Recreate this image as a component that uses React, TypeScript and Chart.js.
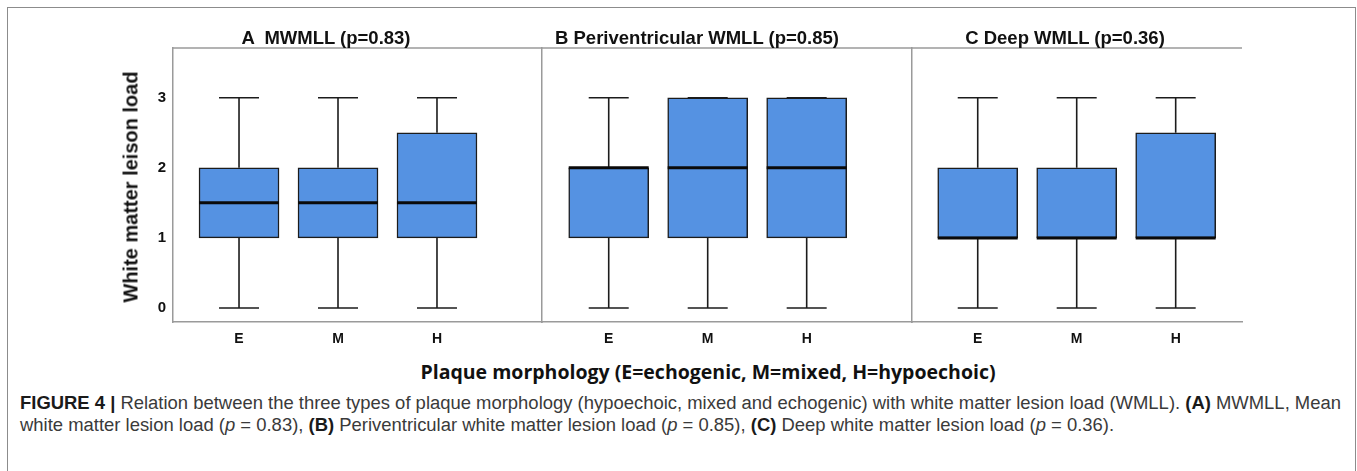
import React, { useEffect, useRef } from 'react';
import { Chart, registerables } from 'chart.js';

Chart.register(...registerables);

// ---------- data ----------
const categories = ['E', 'M', 'H'];
const categoryPositions = [1, 2, 3];
const yTickValues = [0, 1, 2, 3];

const panelTitles = ['A  MWMLL (p=0.83)', 'B Periventricular WMLL (p=0.85)', 'C Deep WMLL (p=0.36)'];

// A: mean white matter lesion load
const mwmllMin = [0, 0, 0];
const mwmllQ1 = [1, 1, 1];
const mwmllMedian = [1.5, 1.5, 1.5];
const mwmllQ3 = [2, 2, 2.5];
const mwmllMax = [3, 3, 3];

// B: periventricular white matter lesion load
const periMin = [0, 0, 0];
const periQ1 = [1, 1, 1];
const periMedian = [2, 2, 2];
const periQ3 = [2, 3, 3];
const periMax = [3, 3, 3];

// C: deep white matter lesion load
const deepMin = [0, 0, 0];
const deepQ1 = [1, 1, 1];
const deepMedian = [1, 1, 1];
const deepQ3 = [2, 2, 2.5];
const deepMax = [3, 3, 3];

const yAxisTitle = 'White matter leison load';
const xAxisTitle = 'Plaque morphology (E=echogenic, M=mixed, H=hypoechoic)';

// ---------- styles ----------
const BOX_FILL = '#5592E2';
const INK = '#1c1c1c';
const FRAME = '#9a9a9a';
const ARIAL = '"Liberation Sans", Arial, sans-serif';

type Stats = { min: number[]; q1: number[]; median: number[]; q3: number[]; max: number[] };

const boxPlugin = {
  id: 'boxWhiskers',
  afterDatasetsDraw(chart: any) {
    const stats: Stats = chart.options.plugins.boxWhiskers.stats;
    const { ctx, chartArea } = chart;
    const xs = chart.scales.x;
    const ys = chart.scales.y;
    ctx.save();
    // top frame line
    ctx.strokeStyle = FRAME;
    ctx.lineWidth = 1.5;
    ctx.beginPath();
    ctx.moveTo(chartArea.left, chartArea.top);
    ctx.lineTo(chartArea.right, chartArea.top);
    ctx.stroke();

    categoryPositions.forEach((pos, i) => {
      const cx = xs.getPixelForValue(pos);
      const capHalf = 20;
      const boxHalf = 40;
      const yMin = ys.getPixelForValue(stats.min[i]);
      const yQ1 = ys.getPixelForValue(stats.q1[i]);
      const yMed = ys.getPixelForValue(stats.median[i]);
      const yQ3 = ys.getPixelForValue(stats.q3[i]);
      const yMax = ys.getPixelForValue(stats.max[i]);
      ctx.strokeStyle = INK;
      ctx.lineWidth = 1.6;
      ctx.beginPath();
      ctx.moveTo(cx, yMax);
      ctx.lineTo(cx, yQ3);
      ctx.moveTo(cx, yQ1);
      ctx.lineTo(cx, yMin);
      ctx.moveTo(cx - capHalf, yMax);
      ctx.lineTo(cx + capHalf, yMax);
      ctx.moveTo(cx - capHalf, yMin);
      ctx.lineTo(cx + capHalf, yMin);
      ctx.stroke();
      ctx.strokeStyle = '#0a0a0a';
      ctx.lineWidth = 3;
      ctx.beginPath();
      ctx.moveTo(cx - boxHalf, yMed);
      ctx.lineTo(cx + boxHalf, yMed);
      ctx.stroke();
    });
    ctx.restore();
  },
};

type PanelProps = {
  stats: Stats;
  left: number;
  width: number;
  yAxisWidth: number;
  showYTicks: boolean;
  xMin: number;
  xMax: number;
};

function Panel({ stats, left, width, yAxisWidth, showYTicks, xMin, xMax }: PanelProps) {
  const ref = useRef<HTMLCanvasElement>(null);
  const top = 40;
  const height = 315;
  useEffect(() => {
    if (!ref.current) return;
    const chart = new Chart(ref.current, {
      type: 'bar',
      data: {
        datasets: [
          {
            data: categoryPositions.map((x, i) => ({ x, y: [stats.q1[i], stats.q3[i]] })) as any,
            backgroundColor: BOX_FILL,
            borderColor: INK,
            borderWidth: 1.5,
            borderSkipped: false,
            barThickness: 80,
          },
        ],
      },
      options: {
        animation: false,
        responsive: false,
        devicePixelRatio: 1,
        layout: { padding: { top: 8, right: 2, left: 0, bottom: 0 } },
        plugins: {
          legend: { display: false },
          tooltip: { enabled: false },
          boxWhiskers: { stats },
        } as any,
        scales: {
          x: {
            type: 'linear',
            offset: false,
            min: xMin,
            max: xMax,
            grid: { display: false, drawTicks: false, offset: false },
            border: { display: true, color: FRAME, width: 1.5 },
            afterBuildTicks: (s: any) => {
              s.ticks = categoryPositions.map((v) => ({ value: v }));
            },
            afterFit: (s: any) => {
              s.height = 33;
              s.paddingLeft = 0;
              s.paddingRight = 0;
            },
            ticks: {
              autoSkip: false,
              maxRotation: 0,
              padding: 9,
              color: '#111',
              font: { family: ARIAL, weight: 'bold', size: 14 },
              callback: (v: any) => {
                const idx = categoryPositions.indexOf(Number(v));
                return idx >= 0 ? categories[idx] : '';
              },
            },
          },
          y: {
            type: 'linear',
            min: -0.2,
            max: 3.71,
            grid: { display: false, drawTicks: false },
            border: { display: true, color: FRAME, width: 1.5 },
            afterBuildTicks: (s: any) => {
              s.ticks = yTickValues.map((v) => ({ value: v }));
            },
            afterFit: (s: any) => {
              s.width = yAxisWidth;
              s.paddingTop = 0;
              s.paddingBottom = 0;
            },
            ticks: {
              display: showYTicks,
              padding: 7,
              color: '#111',
              font: { family: ARIAL, weight: 'bold', size: 15 },
            },
          },
        },
      } as any,
      plugins: [boxPlugin],
    });
    return () => chart.destroy();
  }, []);
  return (
    <canvas
      ref={ref}
      width={width}
      height={height}
      style={{ position: 'absolute', left, top, width, height }}
    />
  );
}

const titleStyle: React.CSSProperties = {
  position: 'absolute',
  top: 27,
  width: 400,
  textAlign: 'center',
  font: `bold 18.5px ${ARIAL}`,
  lineHeight: '22px',
  color: '#111',
  whiteSpace: 'pre',
};

export default function App() {
  const captionStyle: React.CSSProperties = {
    position: 'absolute',
    left: 20,
    font: `18.45px ${ARIAL}`,
    lineHeight: '22px',
    color: '#3a3a3a',
    whiteSpace: 'nowrap',
  };
  return (
    <div style={{ position: 'absolute', left: 0, top: 0, width: 1357, height: 471, overflow: 'hidden', background: '#fff' }}>
      <div
        style={{
          position: 'absolute',
          left: 7,
          top: 7,
          width: 1349,
          height: 500,
          border: '1.5px solid #8c8c8c',
          boxSizing: 'border-box',
        }}
      />
      <Panel
        stats={{ min: mwmllMin, q1: mwmllQ1, median: mwmllMedian, q3: mwmllQ3, max: mwmllMax }}
        left={135}
        width={409}
        yAxisWidth={38}
        showYTicks={true}
        xMin={0.333}
        xMax={4.061}
      />
      <Panel
        stats={{ min: periMin, q1: periQ1, median: periMedian, q3: periQ3, max: periMax }}
        left={538}
        width={376}
        yAxisWidth={4}
        showYTicks={false}
        xMin={0.326}
        xMax={4.064}
      />
      <Panel
        stats={{ min: deepMin, q1: deepQ1, median: deepMedian, q3: deepQ3, max: deepMax }}
        left={908}
        width={336}
        yAxisWidth={4}
        showYTicks={false}
        xMin={0.336}
        xMax={3.67}
      />
      <div style={{ ...titleStyle, left: 326 - 200 }}>{panelTitles[0]}</div>
      <div style={{ ...titleStyle, left: 697 - 200 }}>{panelTitles[1]}</div>
      <div style={{ ...titleStyle, left: 1065 - 200 }}>{panelTitles[2]}</div>
      <div
        style={{
          position: 'absolute',
          left: 131,
          top: 187,
          transform: 'translate(-50%, -50%) rotate(-90deg)',
          font: `bold 20px ${ARIAL}`,
          color: '#111',
          whiteSpace: 'nowrap',
        }}
      >
        {yAxisTitle}
      </div>
      <div
        style={{
          position: 'absolute',
          left: 708,
          top: 371,
          transform: 'translate(-50%, -50%)',
          font: `bold 19.5px "Open Sans", sans-serif`,
          color: '#111',
          whiteSpace: 'nowrap',
        }}
      >
        {xAxisTitle}
      </div>
      <div style={{ ...captionStyle, top: 392 }}>
        <b style={{ color: '#1a1a1a' }}>FIGURE 4 |</b> Relation between the three types of plaque morphology (hypoechoic,
        mixed and echogenic) with white matter lesion load (WMLL). <b style={{ color: '#1a1a1a' }}>(A)</b> MWMLL, Mean
      </div>
      <div style={{ ...captionStyle, top: 414 }}>
        white matter lesion load (<i>p</i> = 0.83), <b style={{ color: '#1a1a1a' }}>(B)</b> Periventricular white matter
        lesion load (<i>p</i> = 0.85), <b style={{ color: '#1a1a1a' }}>(C)</b> Deep white matter lesion load (<i>p</i> ={' '}
        0.36).
      </div>
    </div>
  );
}
